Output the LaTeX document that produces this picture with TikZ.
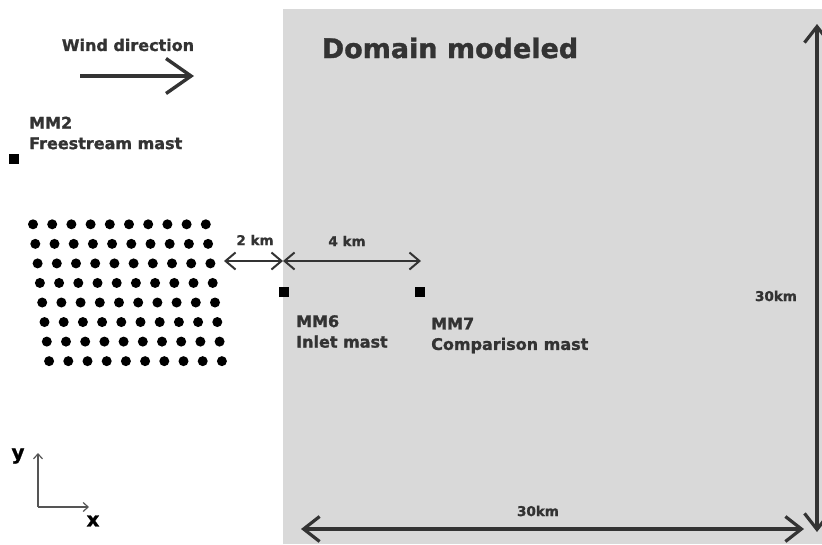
\documentclass[tikz,border=0pt]{standalone}
\usepackage{fontspec}
\setmainfont{DejaVu Sans}[BoldFeatures={FakeBold=1.2}]
\usetikzlibrary{arrows.meta}
\definecolor{dom}{HTML}{D9D9D9}
\definecolor{ink}{HTML}{333333}
\definecolor{axisgray}{HTML}{555555}
\begin{document}
\begin{tikzpicture}[x=1pt,y=-1pt,
  lbl/.style={font=\bfseries\fontsize{16}{20.5}\selectfont, text=ink, inner sep=0pt, align=left},
  dimlbl/.style={font=\bfseries\fontsize{13.5}{16}\selectfont, text=ink, inner sep=0pt},
  axlbl/.style={font=\bfseries\fontsize{20}{22}\selectfont, text=black, inner sep=0pt},
  mast/.style={fill=black, minimum size=9.5pt, inner sep=0pt},
  turbine/.style={circle, fill=black, minimum size=10pt, inner sep=0pt},
  bigarrow/.style={draw=ink, line width=3.2pt, {Straight Barb[length=16pt,width=25pt]}-{Straight Barb[length=16pt,width=25pt]}},
  windarrow/.style={draw=ink, line width=3.4pt, -{Straight Barb[length=25pt,width=35pt]}},
  dimarrow/.style={draw=ink, line width=2pt, {Straight Barb[length=10pt,width=17pt]}-{Straight Barb[length=10pt,width=17pt]}},
  axarrow/.style={draw=axisgray, line width=1.2pt, -{Straight Barb[length=5pt,width=9pt]}}]
\useasboundingbox (0,0) rectangle (822,544);
\fill[white] (0,0) rectangle (822,544);
% domain
\fill[dom] (283,9) rectangle (822,544);
\node[font=\bfseries\fontsize{27}{30}\selectfont, text=ink, inner sep=0pt] (domain) at (450,48) {Domain modeled};
% wind
\node[lbl] (wind) at (128,45) {Wind direction};
\coordinate (w0) at (80,76);
\coordinate (w1) at (194,76);
\draw[windarrow] (w0) -- (w1);
% MM2
\node[mast] (mm2) at (14,159) {};
\node[lbl, anchor=west] (mm2t) at (29,133) {MM2\\Freestream mast};
% turbines
\foreach \r in {0,...,7}{
  \foreach \c in {0,...,9}{
    \node[turbine] (t-\r-\c) at ({33+\r*2.3+\c*19.2},{224.3+\r*19.55}) {};
  }
}
% dimension arrows
\coordinate (a2l) at (224,261);
\coordinate (a2r) at (283,261);
\coordinate (a4r) at (421,261);
\draw[dimarrow] (a2l) -- (a2r);
\draw[dimarrow] (a2r) -- (a4r);
\node[dimlbl] (l2) at (255,240) {2 km};
\node[dimlbl] (l4) at (347,241) {4 km};
% MM6, MM7
\node[mast] (mm6) at (284,292) {};
\node[mast] (mm7) at (420,292) {};
\node[lbl, anchor=west] (mm6t) at (296,331.5) {MM6\\Inlet mast};
\node[lbl, anchor=west] (mm7t) at (431,335.5) {MM7\\Comparison mast};
% domain size arrows
\coordinate (hb0) at (301,529);
\coordinate (hb1) at (804,529);
\draw[bigarrow] (hb0) -- (hb1);
\node[dimlbl] (h30) at (538,511) {30km};
\coordinate (vb0) at (817,24);
\coordinate (vb1) at (817,532);
\draw[bigarrow] (vb0) -- (vb1);
\node[dimlbl] (v30) at (776,296) {30km};
% axes
\coordinate (o) at (38,507);
\coordinate (ay) at (38,453);
\coordinate (ax) at (89,507);
\draw[axarrow] (o) -- (ay);
\draw[axarrow] (o) -- (ax);
\node[axlbl] (ylbl) at (18,456) {y};
\node[axlbl] (xlbl) at (93,521) {x};
\end{tikzpicture}
\end{document}
